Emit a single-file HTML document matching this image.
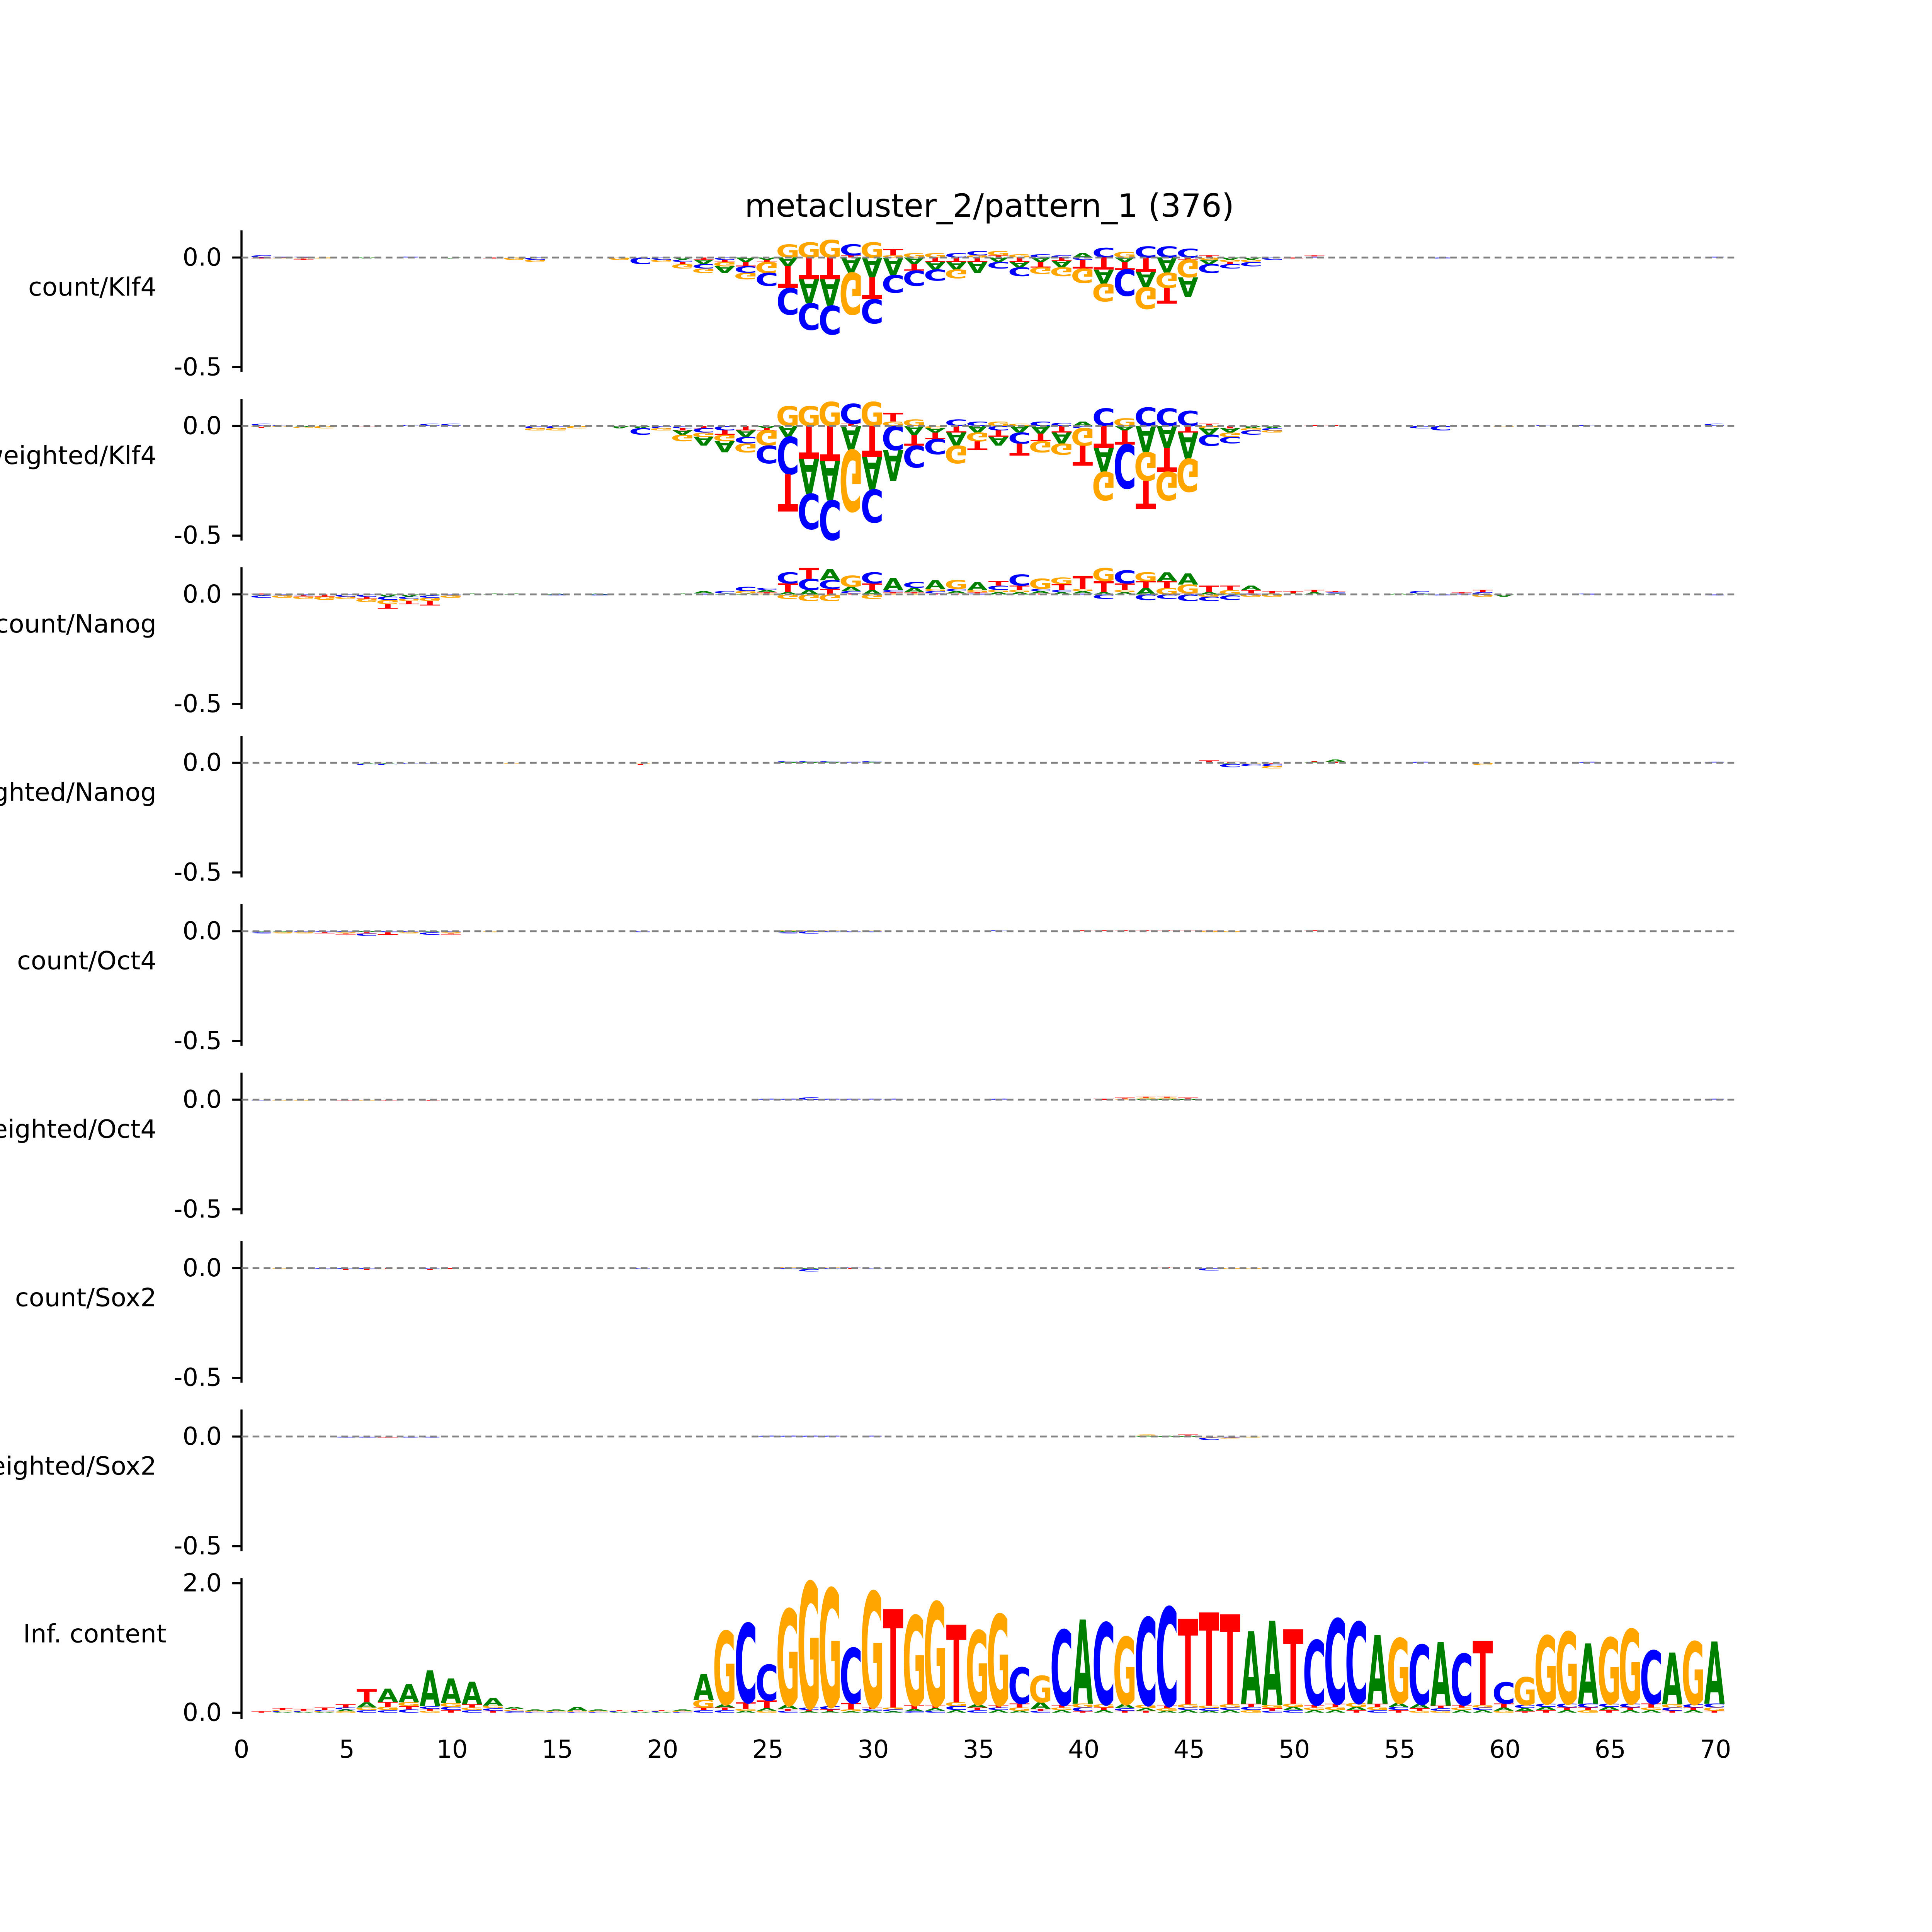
<!DOCTYPE html>
<html><head><meta charset="utf-8">
<style>
html,body{margin:0;padding:0;background:#fff;width:100%;height:100%;overflow:hidden;}
svg{display:block;width:100vw;height:100vh;}
text{font-family:"DejaVu Sans","Liberation Sans",sans-serif;}
</style></head>
<body>
<svg id="fig" xmlns="http://www.w3.org/2000/svg" viewBox="0 0 1568 1568" preserveAspectRatio="none">
<rect x="0" y="0" width="1568" height="1568" fill="#fff"/>
<text x="803" y="167" font-size="26" text-anchor="middle" dominant-baseline="central">metacluster_2/pattern_1 (376)</text>
<g id="panels"></g>
</svg>
<script>
const panelLabels = ["count/Klf4","weighted/Klf4","count/Nanog","weighted/Nanog","count/Oct4","weighted/Oct4","count/Sox2","weighted/Sox2"];
const xTickLabels = [0,5,10,15,20,25,30,35,40,45,50,55,60,65,70];
const contribTicks = [0.0,-0.5];
const infoTicks = [0.0,2.0];

const k1A=[0,0,0,0,0,-0.005,0,0,0,-0.005, 0,0,0,0,0,0,0,0,0,0, -0.01,-0.02,-0.03,-0.02,-0.01,-0.04,-0.11,-0.12,-0.07,-0.09, -0.08,-0.03,-0.035,-0.035,-0.05,-0.02,-0.025,-0.02,-0.03,0.02, -0.065,-0.02,-0.07,-0.07,-0.09,-0.02,-0.01,-0.01,0,0, 0,0,0,0,0,0,0,0,0,0, 0,0,0,0,0,0,0,0,0,0];
const k1C=[0.01,0.005,0.005,0,0,0,0,0.005,0,0, 0,0,0,-0.01,0,0,0,0,-0.03,-0.01, -0.01,-0.02,-0.01,-0.03,-0.06,-0.12,-0.12,-0.13,0.05,-0.11, -0.08,-0.07,-0.05,0.02,0.02,-0.03,-0.04,0.015,0.01,-0.01, 0.045,-0.12,0.05,0.05,0.04,-0.04,-0.02,-0.02,-0.01,0, 0.005,0,0,0,0,0,-0.005,0,0,0, 0,0,0,0,0,0,0,0,0,0.005];
const k1G=[0,-0.005,-0.005,-0.005,0,0,0,0,0,0, 0,0,-0.01,-0.01,0,0,0,-0.01,0,-0.01, -0.02,-0.02,-0.02,-0.03,-0.05,0.06,0.07,0.08,-0.19,0.07, 0.01,0.02,0.02,-0.04,0.01,0.02,0.015,-0.03,-0.04,-0.065, -0.08,0.025,-0.10,-0.07,-0.08,-0.01,-0.01,-0.01,0,0, 0,0,0,0,0,0,0,0,0,0, 0,0,0,0,0,0,0,0,0,0];
const k1T=[-0.005,0,-0.005,0,0,0,0,0,0,0, 0,-0.005,0,0,0,0,0,0,0,0, -0.01,-0.01,-0.01,-0.02,-0.01,-0.10,-0.10,-0.10,0.01,-0.10, 0.03,-0.03,-0.02,-0.02,-0.02,0.01,-0.02,-0.025,-0.015,-0.04, -0.055,-0.035,-0.065,-0.07,-0.01,0.01,-0.01,0,0,-0.005, 0.005,0,0,0,0,0,0,0,0,0, 0,0,0,0,0,0,0,0,0,0];

const k2A=[0,0,-0.005,0,0,0,0,0,0,0, 0,0,0,0,0,0,0,-0.01,-0.01,0, -0.02,-0.04,-0.05,-0.03,-0.01,-0.05,-0.16,-0.18,-0.11,-0.15, -0.14,-0.04,-0.02,-0.06,-0.03,-0.04,-0.03,-0.035,-0.05,0.02, -0.11,-0.02,-0.12,-0.10,-0.12,-0.03,-0.02,-0.01,-0.01,0, 0,0,0,0,0,0,0,0,0,0, 0,0,0,0,0,0,0,0,0,0];
const k2C=[0.01,0.005,0,0,0,0,0,0.005,0.01,0.01, 0,0,0,-0.01,-0.01,0,0,0,-0.03,-0.01, -0.01,-0.02,-0.02,-0.03,-0.08,-0.17,-0.16,-0.18,0.09,-0.15, -0.11,-0.10,-0.07,0.03,0.02,-0.02,-0.05,0.02,0.015,-0.01, 0.08,-0.20,0.085,0.08,0.07,-0.05,-0.03,-0.02,-0.01,0, 0,0,0,0,0,-0.01,-0.02,0,0,0, 0,0.005,0,0.005,0,0,0,0,0,0.01];
const k2G=[-0.005,-0.005,-0.005,-0.01,0,0,0,0,0,0, 0,0,0,-0.01,-0.01,-0.01,0,0,0,-0.01, -0.03,-0.02,-0.03,-0.04,-0.07,0.09,0.09,0.11,-0.28,0.11, 0.02,0.03,-0.01,-0.08,-0.04,0.02,0.01,-0.05,-0.05,-0.08, -0.13,0.035,-0.13,-0.13,-0.15,-0.01,-0.02,-0.01,-0.01,0, 0,0,0,0,0,0,0,0,0,-0.005, 0,0,0,0,0,0,0,0,0,0];
const k2T=[-0.005,0,0,0,0,-0.005,0,0,0,0, 0,0,0,0,0,0,0,0,0,0, -0.01,-0.01,-0.02,-0.02,-0.01,-0.17,-0.15,-0.16,0.01,-0.14, 0.04,-0.05,-0.03,-0.03,-0.04,-0.03,-0.055,-0.035,-0.03,-0.09, -0.10,-0.065,-0.13,-0.11,-0.03,0.01,-0.01,0,0,0, 0.005,0.005,0,0,0,0,0,0,0,0, 0,0,0,0,0,0,0,0,0,0];

const n1A=[-0.005,0,0,0,0,0,-0.01,-0.01,-0.005,0, 0.005,0.005,0.005,0,0.005,0,0.005,0,0,0, 0.005,0.01,0.005,0.005,0.01,0.01,0.02,0.05,0.02,0.02, 0.055,0.02,0.04,0.01,0.035,0.01,0.01,0.01,0.01,0.01, 0.01,0.01,0.03,0.04,0.05,0.01,-0.005,0.02,0.005,0.005, 0.01,0.005,0,0,0.005,0.005,0,0,0,-0.01, 0,0,0,0,0,0,0,0,0,0];
const n1C=[-0.01,-0.005,-0.005,0,-0.01,-0.01,-0.015,-0.01,-0.01,-0.005, 0,0,0,0,-0.005,0,-0.005,0,0,0, 0,0.005,0.01,0.02,0.01,0.05,0.05,0.04,0.01,0.05, 0.01,0.025,0.01,0.01,0.005,0.02,0.05,0.01,0.01,0.005, -0.02,0.06,-0.025,-0.02,-0.03,-0.02,-0.02,0.005,0,0, 0,0.005,0,0,0,0.01,-0.005,0.005,0.01,0, 0,0,0,0.005,0,0,0,0,0,-0.005];
const n1G=[0,-0.01,-0.01,-0.015,-0.01,-0.015,-0.02,-0.01,-0.015,-0.01, 0,0,0,0,0,0,0,0,0,0, 0,0,0,0.01,0.005,-0.02,-0.03,-0.03,0.05,-0.02, 0.005,0.005,0.01,0.04,0.01,0.01,0.01,0.047,0.03,0.01, 0.06,0.01,0.04,0.03,0.04,-0.01,0.02,-0.01,-0.01,0, 0,0,0,0,0,0,0,0,-0.01,0, 0,0,0,0,0,0,0,0,0,0];
const n1T=[0.005,0,-0.005,-0.01,0,-0.01,-0.02,-0.015,-0.02,0, 0,0,0,0,0,0,0,0,0,0, 0,0,0,0,0.005,0.04,0.05,0.025,0.005,0.03, 0.005,0.005,0.005,0.005,0.005,0.02,0.02,0.005,0.027,0.06, 0.05,0.03,0.03,0.03,0.005,0.03,0.02,0.015,0.01,0.01, 0.01,0.005,0,0,0,0,0,0.005,0.01,0, 0,0,0,0,0,0,0,0,0,0];

const n2A=[0,0,0,0,0,-0.005,-0.005,0,0,0, 0,0,0,0,0,0,0,0,0,0, 0,0,0,0,0,0.005,0.005,0.005,0,0.005, 0,0,0,0,0,0,0,0,0,0, 0,0,0,0,0,0,-0.005,0,0,0, 0.005,0.01,0,0,0,0,0,0,0,0, 0,0,0,0,0,0,0,0,0,0];
const n2C=[0,0,0,0,0,-0.005,-0.005,-0.005,-0.005,0, 0,0,0,0,0,0,0,0,0,0, 0,0,0,0,0,0.005,0.005,0.005,0.005,0.005, 0,0,0,0,0,0,0,0,0,0, 0,0,0,0,0,0,-0.015,-0.01,-0.01,0, 0,0,0,0,0,0.005,0,0,0,0, 0,0,0,0.005,0,0,0,0,0,0.005];
const n2G=[0,0,0,0,0,0,0,0,0,0, 0,0,-0.005,0,0,0,0,0,-0.005,0, 0,0,0,0,0,0,0,0,0,0, 0,0,0,0,0,0,0,0,0,0, 0,0,0,0,0,0,0,-0.005,-0.01,0, 0,0,0,0,0,0,0,0,-0.01,0, 0,0,0,0,0,0,0,0,0,0];
const n2T=[0,0,0,0,0,0,0,0,0,0, 0,0,0,0,0,0,0,0,-0.005,0, 0,0,0,0,0,0,0,0,0,0, 0,0,0,0,0,0,0,0,0,0, 0,0,0,0,0,0.01,0.005,0,-0.005,0, 0.005,0.005,0,0,0,0,0,0,0,0, 0,0,0,0,0,0,0,0,0,0];

const o1A=[-0.005,-0.005,0,0,0,-0.005,0,0,-0.005,0, 0,0,0,0,0,0,0,0,0,0, 0,0,0,0,0,-0.005,0,0,0,0, 0,0,0,0,0,0,0,0,0,0, 0,0,0,0,0,0,0,0,0,0, 0,0,0,0,0,0,0,0,0,0, 0,0,0,0,0,0,0,0,0,0];
const o1C=[-0.005,0,-0.005,-0.005,-0.005,-0.01,-0.005,-0.005,-0.01,-0.005, 0,0,0,0,0,0,0,0,-0.005,0, 0,0,0,0,0,-0.005,-0.01,-0.005,-0.005,-0.005, 0,0,0,0,0,0.005,0,0,0,0, 0,0,0,0,0,0,0,0,0,0, 0,0,0,0,0,0,0,0,0,0, 0,0,0,0,0,0,0,0,0,0];
const o1G=[0,-0.005,-0.005,0,-0.005,0,0,-0.005,0,-0.005, 0,-0.005,0,0,0,0,0,0,0,0, 0,0,0,0,0,0.005,0.005,0.005,0,0.005, 0,0,0,0,0,0,0,0,0,0, 0,0,0,0,0,-0.005,-0.005,0,0,0, 0,0,0,0,0,0,0,0,0,0, 0,0,0,0,0,0,0,0,0,0];
const o1T=[0,0,0,-0.005,-0.005,-0.005,-0.01,0,0,-0.005, 0,0,0,0,0,0,0,0,0,0, 0,0,0,0,0,0,0,0,0,0, 0,0,0,0,0,0,0,0,0,0.005, 0.005,0.005,0.005,0.005,0.005,0.005,0,0,0,0, 0.005,0,0,0,0,0,0,0,0,0, 0,0,0,0,0,0,0,0,0,0];

const o2A=[0,0,0,0,0,0,0,0,0,0, 0,0,0,0,0,0,0,0,0,0, 0,0,0,0,0,0,0,0,0,0, 0,0,0,0,0,0,0,0,0,0, 0,0,0.005,0.005,0.005,0,0,0,0,0, 0,0,0,0,0,0,0,0,0,0, 0,0,0,0,0,0,0,0,0,0];
const o2C=[-0.005,0,0,0,0,0,0,0,0,0, 0,0,0,0,0,0,0,0,0,0, 0,0,0,0,0.005,0.005,0.01,0.005,0.005,0.005, 0.005,0,0,0,0,0.005,0,0,0,0, 0,0,0,0,0,0,0,0,0,0, 0,0,0,0,0,0,0,0,0,0, 0,0,0,0,0,0,0,0,0,0.005];
const o2G=[0,-0.005,-0.005,0,0,-0.005,0,0,0,0, 0,0,0,0,0,0,0,0,0,0, 0,0,0,0,0,0,0,0,0,0, 0,0,0,0,0,0,0,0,0,0, 0,0.005,0.005,0.005,0,0,0,0,0,0, 0,0,0,0,0,0,0,0,0,0, 0,0,0,0,0,0,0,0,0,0];
const o2T=[0,0,0,0,-0.005,0,-0.005,0,-0.005,0, 0,0,0,0,0,0,0,0,0,0, 0,0,0,0,0,0,0,0,0,0, 0,0,0,0,0,0,0,0,0,0, 0.005,0.005,0.005,0.005,0.005,0,0,0,0,0, 0,0,0,0,0,0,0,0,0,0, 0,0,0,0,0,0,0,0,0,0];

const s1A=[0,0,0,0,0,0,0,0,0,0, 0,0,0,0,0,0,0,0,0,0, 0,0,0,0,0,0,-0.005,0,0,0, 0,0,0,0,0,0,0,0,0,0, 0,0,0,0,0,0,0,0,0,0, 0,0,0,0,0,0,0,0,0,0, 0,0,0,0,0,0,0,0,0,0];
const s1C=[0,0,0,-0.005,-0.005,-0.005,0,0,-0.005,0, 0,0,0,0,0,0,0,0,-0.005,0, 0,0,0,0,0,-0.005,-0.01,-0.005,0.005,-0.005, 0,0,0,0,0,0,0,0,0,0, 0,0,0,0,0,-0.01,0,0,0,0, 0,0,0,0,0,0,0,0,0,0, 0,0,0,0,0,0,0,0,0,0];
const s1G=[0,-0.005,0,0,0,0,0,0,0,0, 0,0,0,0,0,0,0,0,0,0, 0,0,0,0,0,0.005,0,0.005,0,0, 0,0,0,0,0,0,0,0,0,0, 0,0,0,0,0,0,-0.005,-0.005,0,0, 0,0,0,0,0,0,0,0,0,0, 0,0,0,0,0,0,0,0,0,0];
const s1T=[0,0,0,0,-0.005,-0.005,-0.005,0,-0.005,-0.005, 0,0,0,0,0,0,0,0,0,0, 0,0,0,0,0,0,0,0,-0.005,0, 0,0,0,0,0,0,0,0,0,0, 0,0,0,0.005,0,0,0,0,0,0, 0,0,0,0,0,0,0,0,0,0, 0,0,0,0,0,0,0,0,0,0];

const s2A=[0,0,0,0,0,0,0,0,0,0, 0,0,0,0,0,0,0,0,0,0, 0,0,0,0,0,0,0,0,0,0, 0,0,0,0,0,0,0,0,0,0, 0,0,0.005,0.005,0.005,0,0,0,0,0, 0,0,0,0,0,0,0,0,0,0, 0,0,0,0,0,0,0,0,0,0];
const s2C=[0,0,0,0,-0.005,-0.005,0,-0.005,-0.005,0, 0,0,0,0,0,0,0,0,0,0, 0,0,0,0,0.005,0.005,0.005,0.005,0,0.005, 0,0,0,0,0,0,0,0,0,0, 0,0,0,0,0,-0.01,-0.005,0,0,0, 0,0,0,0,0,0,0,0,0,0, 0,0,0,0,0,0,0,0,0,0];
const s2G=[0,0,0,0,0,0,0,0,0,0, 0,0,0,0,0,0,0,0,0,0, 0,0,0,0,0,0,0,0,0,0, 0,0,0,0,0,0,0,0,0,0, 0,0,0.005,0,0,-0.005,-0.005,-0.005,0,0, 0,0,0,0,0,0,0,0,0,0, 0,0,0,0,0,0,0,0,0,0];
const s2T=[0,0,0,0,0,0,-0.005,0,0,0, 0,0,0,0,0,0,0,0,0,0, 0,0,0,0,0,0,0,0,0,0, 0,0,0,0,0,0,0,0,0,0, 0,0,0,0,0.005,0,0,0,0,0, 0,0,0,0,0,0,0,0,0,0, 0,0,0,0,0,0,0,0,0,0];

const icA=[0,0.01,0.01,0.01,0.03,0.08,0.2,0.28,0.55,0.38, 0.35,0.12,0.03,0.02,0.02,0.06,0.02,0.01,0.01,0.01, 0.02,0.40,0.05,0.03,0.04,0.06,0.02,0.02,0.02,0.03, 0.02,0.04,0.04,0.04,0.05,0.04,0.03,0.10,0.04,1.30, 0.04,0.06,0.04,0.03,0.04,0.03,0.04,1.12,1.30,0.05, 0.04,0.04,0.05,1.06,0.06,0.06,0.98,0.04,0.04,0.05, 0.05,0.05,0.04,0.93,0.05,0.04,0.04,0.80,0.04,0.96];
const icC=[0,0.01,0.01,0.02,0.03,0.04,0.04,0.05,0.04,0.05, 0.04,0.04,0.02,0.01,0.01,0.01,0.01,0.01,0.01,0.01, 0.01,0.04,0.04,1.22,0.55,0.03,0.04,0.05,0.85,0.03, 0.03,0.02,0.03,0.06,0.04,0.04,0.56,0.03,1.16,0.06, 1.26,0.04,1.35,1.52,0.04,0.04,0.04,0.05,0.03,0.04, 1.00,1.31,1.25,0.04,0.05,0.92,0.04,0.79,0.04,0.33, 0.05,0.05,0.06,0.06,0.05,0.06,0.82,0.05,0.05,0.06];
const icG=[0,0.02,0.01,0.01,0.02,0.04,0.05,0.06,0.03,0.06, 0.04,0.04,0.02,0.01,0.01,0.01,0.01,0.01,0.01,0.01, 0.01,0.12,1.13,0.03,0.03,1.48,1.94,1.82,0.03,1.78, 0.03,1.38,1.60,0.06,1.14,1.40,0.05,0.41,0.04,0.06, 0.05,1.04,0.05,0.04,0.05,0.04,0.05,0.04,0.05,0.05, 0.04,0.05,0.06,0.05,1.00,0.03,0.03,0.04,0.04,0.03, 0.43,1.05,1.11,0.04,1.02,1.15,0.04,0.05,0.97,0.05];
const icT=[0.02,0.03,0.03,0.04,0.05,0.20,0.08,0.05,0.03,0.04, 0.05,0.03,0.02,0.01,0.01,0.01,0.01,0.01,0.01,0.01, 0.01,0.04,0.04,0.10,0.12,0.03,0.02,0.03,0.10,0.03, 1.52,0.06,0.04,1.20,0.04,0.04,0.06,0.03,0.04,0.02, 0.04,0.03,0.03,0.04,1.32,1.44,1.39,0.05,0.04,1.15, 0.04,0.05,0.04,0.05,0.04,0.04,0.04,0.04,0.99,0.06, 0.02,0.04,0.04,0.04,0.04,0.04,0.06,0.03,0.04,0.03];

const contribPanels = [[k1A,k1C,k1G,k1T],[k2A,k2C,k2G,k2T],[n1A,n1C,n1G,n1T],[n2A,n2C,n2G,n2T],[o1A,o1C,o1G,o1T],[o2A,o2C,o2G,o2T],[s1A,s1C,s1G,s1T],[s2A,s2C,s2G,s2T]];

const NS="http://www.w3.org/2000/svg";
const X0=196, XU=17.09;
function xs(v){return X0+XU*v;}
const P0Y=209, PSTEP=136.7, CUNIT=178;
const IC0Y=1390, ICUNIT=52.5;
const LET=["A","C","G","T"];
const COL={A:"#008000",C:"#0000ff",G:"#ffa500",T:"#ff0000"};
const INK={A:0.76,C:0.64,G:0.70,T:0.68};
const CAP=72.9, LW=16.4;
const root=document.getElementById("panels");

function mk(tag,attrs,parent){const e=document.createElementNS(NS,tag);for(const k in attrs)e.setAttribute(k,attrs[k]);(parent||root).appendChild(e);return e;}

function letter(g,l,cx,y,h,neg){
  if(h<0.25)return;
  const t=document.createElementNS(NS,"text");
  
  
  const sx=LW/(INK[l]*100), sy=h/CAP;
  t.setAttribute("transform","translate("+cx.toFixed(2)+","+y.toFixed(2)+") scale("+sx.toFixed(4)+","+(neg?-sy:sy).toFixed(4)+")");
  t.setAttribute("font-size","100");t.setAttribute("font-weight","bold");
  t.setAttribute("text-anchor","middle");t.setAttribute("fill",COL[l]);
  t.textContent=l;g.appendChild(t);
}

function drawLogo(g,arrs,y0,unit){
  for(let i=0;i<70;i++){
    const cx=xs(i+1)-0.9;
    const vals=LET.map((l,k)=>({l:l,v:arrs[k][i]||0}));
    const pos=vals.filter(o=>o.v>0).sort((a,b)=>a.v-b.v);
    const neg=vals.filter(o=>o.v<0).sort((a,b)=>b.v-a.v);
    let y=y0;
    for(const o of pos){const h=o.v*unit;letter(g,o.l,cx,y,h,false);y-=h;}
    y=y0;
    for(const o of neg){const h=-o.v*unit;letter(g,o.l,cx,y,h,true);y+=h;}
  }
}

function yAxis(g,top,bottom,ticks){
  const ax=mk("line",{x1:X0,x2:X0,y1:top,y2:bottom,stroke:"#000","stroke-width":1.7},g);
  
  
  for(const t of ticks){
    const tm=mk("line",{x1:X0-7.5,x2:X0,y1:t.y,y2:t.y,stroke:"#000","stroke-width":1.7},g);
    
    
    const tl=mk("text",{x:X0-16,y:t.y,"font-size":20,"text-anchor":"end","dominant-baseline":"central"},g);
    
    
    tl.textContent=t.label;
  }
}

contribPanels.forEach((arrs,pi)=>{
  const y0=P0Y+PSTEP*pi;
  const g=mk("g",{});
  
  
  const ticks=contribTicks.map(v=>({y:y0-v*CUNIT,label:v.toFixed(1)}));
  yAxis(g,y0-22,y0+0.5*CUNIT+4,ticks);
  const lab=mk("text",{x:127,y:y0+24,"font-size":20.5,"text-anchor":"end","dominant-baseline":"central"},g);
  
  
  lab.textContent=panelLabels[pi];
  const lg=mk("g",{},g);
  
  
  drawLogo(lg,arrs,y0,CUNIT);
  const base=mk("line",{x1:X0,x2:1410,y1:y0,y2:y0,stroke:"#808080","stroke-width":1.5,"stroke-dasharray":"5.5,3.5"},g);
  
  
});

(function(){
  const g=mk("g",{});
  
  
  const ticks=infoTicks.map(v=>({y:IC0Y-v*ICUNIT,label:v.toFixed(1)}));
  yAxis(g,IC0Y-2.08*ICUNIT,IC0Y+5,ticks);
  const lab=mk("text",{x:135,y:1326,"font-size":20.5,"text-anchor":"end","dominant-baseline":"central"},g);
  
  
  lab.textContent="Inf. content";
  const lg=mk("g",{},g);
  
  
  drawLogo(lg,[icA,icC,icG,icT],IC0Y,ICUNIT);
  for(const v of xTickLabels){
    const tl=mk("text",{x:xs(v),y:1420,"font-size":20,"text-anchor":"middle","dominant-baseline":"central"},g);
    
    
    tl.textContent=String(v);
  }
})();
</script>
</body></html>
